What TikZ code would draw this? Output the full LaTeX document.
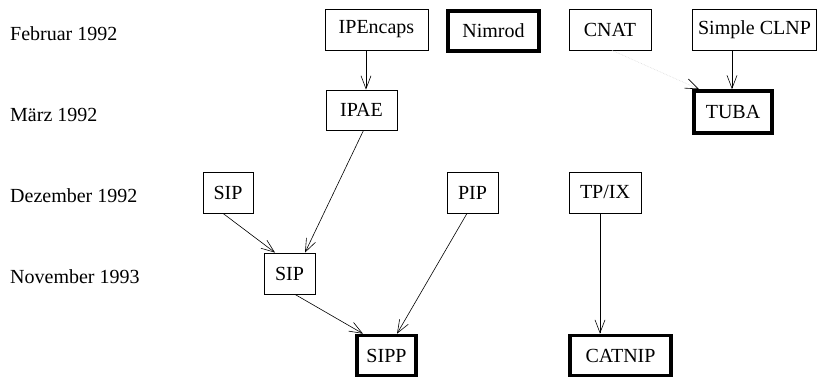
\documentclass[tikz,border=0pt]{standalone}
\usepackage{fontspec}
\setmainfont{Liberation Serif}
\usetikzlibrary{positioning, arrows.meta}

\begin{document}
\begin{tikzpicture}[x=1pt, y=-1pt,
    font=\fontsize{20}{24}\selectfont,
    box/.style={draw, line width=0.8pt, inner sep=0pt, minimum height=41pt},
    fat/.style={draw, line width=3.6pt, inner sep=0pt, minimum height=40pt},
    arr/.style={line width=0.6pt, -{Straight Barb[length=13pt, width=10pt]}},
    faint/.style={densely dotted, gray!30, line width=0.6pt, -{Straight Barb[length=13pt, width=10pt, color=black]}},
    datum/.style={anchor=base west, inner sep=0pt}]
    \useasboundingbox (0,0) rectangle (817,378);
    % Zeitachse links
    \node[datum] (feb) at (10,40) {Februar 1992};
    \node[datum] (mar) at (10,121) {März 1992};
    \node[datum] (dez) at (10,202) {Dezember 1992};
    \node[datum] (nov) at (10,283) {November 1993};
    % Februar 1992
    \node[box, minimum width=103pt] (ipencaps) at (376.5,29.5) {IPEncaps};
    \node[fat, minimum width=91pt] (nimrod) at (493.5,31) {Nimrod};
    \node[box, minimum width=82pt] (cnat) at (610,29.5) {CNAT};
    \node[box, minimum width=124pt] (clnp) at (754.5,29.5) {Simple CLNP};
    % März 1992
    \node[box, minimum width=71pt, minimum height=40pt] (ipae) at (361.5,110) {IPAE};
    \node[fat, minimum width=78pt, minimum height=42pt] (tuba) at (733,112) {TUBA};
    % Dezember 1992
    \node[box, minimum width=50pt] (sipa) at (228,192.5) {SIP};
    \node[box, minimum width=51pt] (pip) at (472.5,192.5) {PIP};
    \node[box, minimum width=72pt] (tpix) at (605,192.5) {TP/IX};
    % November 1993
    \node[box, minimum width=51pt] (sipb) at (289.5,273.5) {SIP};
    % Ergebnis
    \node[fat, minimum width=59pt] (sipp) at (386.5,355.5) {SIPP};
    \node[fat, minimum width=101pt] (catnip) at (620.5,355.5) {CATNIP};
    % Verbindungen
    \draw[arr] ([xshift=-10.5pt]ipencaps.south) -- ([xshift=4.5pt]ipae.north);
    \draw[arr] ([xshift=2pt]ipae.south) -- ([xshift=15.5pt]sipb.north);
    \draw[arr] ([xshift=-5pt]sipa.south) -- ([xshift=-14.5pt]sipb.north);
    \draw[arr] ([xshift=5.5pt]sipb.south) -- ([xshift=-23.5pt]sipp.north);
    \draw[arr] ([xshift=-5.5pt]pip.south) -- ([xshift=10.5pt]sipp.north);
    \draw[arr] ([xshift=-5pt]tpix.south) -- ([xshift=-20.5pt]catnip.north);
    \draw[arr] ([xshift=-22.5pt]clnp.south) -- ([xshift=-1pt]tuba.north);
    \draw[faint] ([xshift=2pt]cnat.south) -- ([xshift=-34pt]tuba.north);
\end{tikzpicture}
\end{document}
